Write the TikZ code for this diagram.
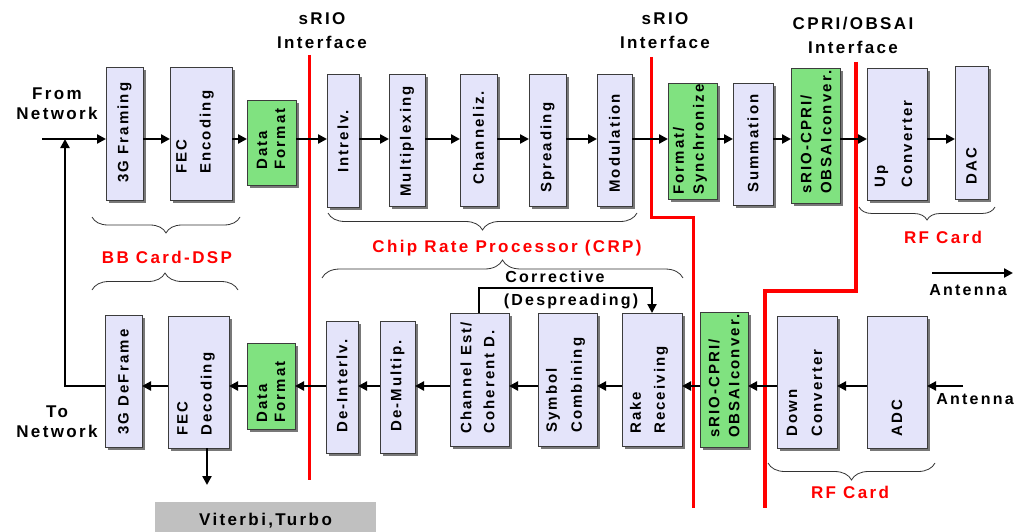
\documentclass[tikz,border=0pt]{standalone}
\usepackage{fontspec}
\setmainfont{Liberation Sans}[LetterSpace=14]
\usetikzlibrary{arrows.meta,shadows,decorations.pathreplacing}
\definecolor{lav}{RGB}{228,228,250}
\definecolor{grn}{RGB}{128,226,128}
\definecolor{shd}{RGB}{120,120,120}
\definecolor{vit}{RGB}{192,192,192}
\definecolor{brd}{RGB}{60,60,60}
\tikzset{
  box/.style={draw=brd, line width=0.8pt, inner sep=0pt, outer sep=0pt,
    drop shadow={shadow xshift=3pt, shadow yshift=-3pt, fill=shd, opacity=1}},
  btext/.style={rotate=90, anchor=west, align=left, inner sep=0pt},
  lbl/.style={align=center, inner sep=0pt, font=\bfseries\fontsize{17}{20}\selectfont},
  lblb/.style={lbl, font=\bfseries\fontsize{17}{24}\selectfont},
  lblsm/.style={align=center, inner sep=0pt, font=\bfseries\fontsize{16}{20}\selectfont},
  redlbl/.style={lbl, text=red},
  arr/.style={line width=2.4pt, -{Triangle[length=9pt,width=9pt]}},
  carr/.style={line width=2pt, -{Triangle[length=9pt,width=9pt]}},
  redline/.style={draw=red, line width=3pt},
  brc/.style={decorate, decoration={brace, amplitude=#1}, draw=black!80, line width=0.8pt},
}
\newcommand\blk[6]{\node[box,fill=#6,minimum width={(#4-#2)*1pt},minimum height={(#5-#3)*1pt}] (#1) at ({(#2+#4)/2},{(#3+#5)/2}) {};}
\newcommand\btx[5][22]{\node[btext,font=\bfseries\fontsize{15}{#1}\selectfont] (#2) at (#3,#4) {#5};}
\begin{document}
\begin{tikzpicture}[x=1pt,y=-1pt]
\useasboundingbox (0,0) rectangle (1024,532);
% row coordinates
\coordinate (r1) at (0,139);
\coordinate (r2) at (0,386);
% red interface lines
\draw[redline] (309,55) -- (309,480);
\draw[redline] (651,57) -- (651,217) -- (693,217) -- (693,508);
\draw[redline, line width=3.5pt] (856,62) -- (856,291) -- (765,291) -- (765,508);
% top row boxes
\blk{fram}{106}{67}{143}{200}{lav}
\blk{fece}{170}{67}{232}{200}{lav}
\blk{dfa}{247}{100}{296}{185}{grn}
\blk{intl}{327}{74}{359}{207}{lav}
\blk{mux}{389}{74}{425}{206}{lav}
\blk{chz}{460}{74}{497}{206}{lav}
\blk{spr}{529}{74}{566}{206}{lav}
\blk{mod}{597}{74}{632}{206}{lav}
\blk{fsy}{668}{83}{717}{199}{grn}
\blk{sum}{733}{83}{773}{205}{lav}
\blk{cpa}{791}{68}{840}{203}{grn}
\blk{upc}{867}{68}{927}{200}{lav}
\blk{dac}{955}{66}{988}{199}{lav}
% bottom row boxes
\blk{defr}{105}{315}{142}{447}{lav}
\blk{fecd}{168}{316}{229}{448}{lav}
\blk{dfb}{247}{343}{295}{429}{grn}
\blk{dil}{326}{321}{358}{453}{lav}
\blk{dmx}{380}{321}{415}{453}{lav}
\blk{che}{450}{313}{509}{446}{lav}
\blk{sym}{538}{313}{597}{446}{lav}
\blk{rake}{622}{313}{682}{446}{lav}
\blk{cpb}{700}{312}{748}{447}{grn}
\blk{dnc}{777}{316}{837}{448}{lav}
\blk{adc}{867}{316}{927}{448}{lav}
% box texts
\btx{fram-t}{124.5}{183}{3G Framing}
\btx[24]{fece-t}{195}{174}{FEC\\Encoding}
\btx[18]{dfa-t}{271}{170}{Data\\Format}
\btx{intl-t}{343}{173}{Intrelv.}
\btx{mux-t}{407}{197}{Multiplexing}
\btx{chz-t}{478.5}{185}{Channeliz.}
\btx{spr-t}{547.5}{193}{Spreading}
\btx{mod-t}{614.5}{193}{Modulation}
\btx[20]{fsy-t}{690}{195}{Format/\\Synchronize}
\btx{sum-t}{753}{193}{Summation}
\btx[20]{cpa-t}{816}{194}{sRIO-CPRI/\\OBSAIconver.}
\btx[27]{upc-t}{893.5}{188}{Up\\Converter}
\btx{dac-t}{971.5}{185}{DAC}
\btx{defr-t}{123.5}{435}{3G DeFrame}
\btx[24]{fecd-t}{196}{436}{FEC\\Decoding}
\btx[18]{dfb-t}{271}{423}{Data\\Format}
\btx{dil-t}{342}{433}{De-Interlv.}
\btx{dmx-t}{397.5}{432}{De-Multip.}
\btx[23]{che-t}{477.5}{434}{Channel Est/\\Coherent D.}
\btx[25]{sym-t}{565.5}{433}{Symbol\\Combining}
\btx[24]{rake-t}{649}{434}{Rake\\Receiving}
\btx[20]{cpb-t}{724}{438}{sRIO-CPRI/\\OBSAIconver.}
\btx[25]{dnc-t}{804.5}{437}{Down\\Converter}
\btx{adc-t}{897}{437}{ADC}
% top row connectors
\coordinate (fromstart) at (42,139);
\draw[arr] (fromstart) -- (fram.west |- r1);
\draw[arr] (fram.east |- r1) -- (fece.west |- r1);
\draw[arr] (fece.east |- r1) -- (dfa.west |- r1);
\draw[arr] (dfa.east |- r1) -- (intl.west |- r1);
\draw[arr] (intl.east |- r1) -- (mux.west |- r1);
\draw[arr] (mux.east |- r1) -- (chz.west |- r1);
\draw[arr] (chz.east |- r1) -- (spr.west |- r1);
\draw[arr] (spr.east |- r1) -- (mod.west |- r1);
\draw[arr] (mod.east |- r1) -- (fsy.west |- r1);
\draw[arr] (fsy.east |- r1) -- (sum.west |- r1);
\draw[arr] (sum.east |- r1) -- (cpa.west |- r1);
\draw[arr] (cpa.east |- r1) -- (upc.west |- r1);
\draw[arr] (upc.east |- r1) -- (dac.west |- r1);
% bottom row connectors
\coordinate (antin) at (963,386);
\draw[arr] (antin) -- (adc.east |- r2);
\draw[arr] (adc.west |- r2) -- (dnc.east |- r2);
\draw[arr] (dnc.west |- r2) -- (cpb.east |- r2);
\draw[arr] (cpb.west |- r2) -- (rake.east |- r2);
\draw[arr] (rake.west |- r2) -- (sym.east |- r2);
\draw[arr] (sym.west |- r2) -- (che.east |- r2);
\draw[arr] (che.west |- r2) -- (dmx.east |- r2);
\draw[arr] (dmx.west |- r2) -- (dil.east |- r2);
\draw[arr] (dil.west |- r2) -- (dfb.east |- r2);
\draw[arr] (dfb.west |- r2) -- (fecd.east |- r2);
\draw[arr] (fecd.west |- r2) -- (defr.east |- r2);
% feedback to network
\coordinate (fbtop) at (65,139);
\draw[arr] (defr.west |- r2) -| (fbtop);
% corrective loop
\coordinate (c1) at (479,288);
\coordinate (c2) at (652,288);
\draw[carr] (che.north -| c1) -- (c1) -- (c2) -- (rake.north -| c2);
% viterbi
\node[fill=vit, minimum width=221pt, minimum height=38pt, inner sep=0pt, outer sep=0pt,
  font=\bfseries\fontsize{17}{20}\selectfont] (vit) at (265.5,521) {Viterbi,Turbo};
\coordinate (vitarr) at (207,485);
\draw[arr] (fecd.south -| vitarr) -- (vitarr);
% antenna out
\coordinate (antA) at (932,273);
\coordinate (antB) at (1013,273);
\draw[arr] (antA) -- (antB);
% braces
\draw[brc=16pt] (240,217) -- (92,217);
\draw[brc=17pt] (92,290) -- (238,290);
\draw[brc=17pt] (637,213) -- (328,213);
\draw[brc=18pt] (322,278) -- (683,278);
\draw[brc=13pt] (995,207) -- (859,207);
\draw[brc=17pt] (935,463) -- (768,463);
% labels
\node[lbl] (fromnet) at (57,103.5) {From\\Network};
\node[lbl] (tonet) at (57,421.5) {To\\Network};
\node[lblb] (srio1) at (322,31) {sRIO\\Interface};
\node[lblb] (srio2) at (665,31) {sRIO\\Interface};
\node[lblb] (cpri) at (853,35) {CPRI/OBSAI\\Interface};
\node[redlbl] (bbl) at (167,257) {BB Card-DSP};
\node[redlbl] (crpl) at (507,248) {Chip Rate Processor (CRP)};
\node[redlbl] (rf1) at (943,237) {RF Card};
\node[redlbl] (rf2) at (850,492) {RF Card};
\node[lblsm] (corr) at (555,277) {Corrective};
\node[lblsm] (desp) at (571,301) {(Despreading)};
\node[lblsm] (ant1) at (968,290) {Antenna};
\node[lblsm] (ant2) at (975,399) {Antenna};
\end{tikzpicture}
\end{document}
